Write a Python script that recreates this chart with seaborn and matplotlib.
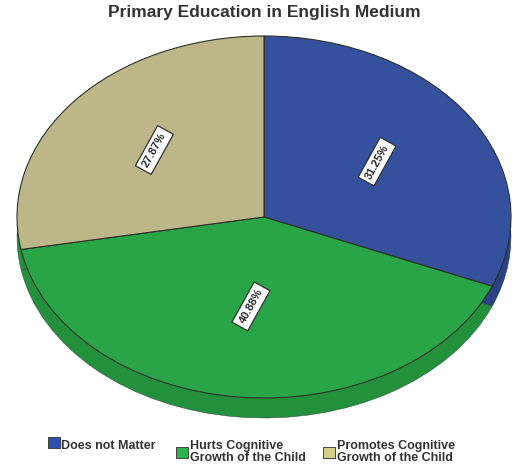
import matplotlib
matplotlib.use("Agg")
import matplotlib.pyplot as plt
from matplotlib.patches import Patch
import seaborn as sns

title = "Primary Education in English Medium"
categories = ["Does not Matter", "Hurts Cognitive\nGrowth of the Child", "Promotes Cognitive\nGrowth of the Child"]
percent = [31.25, 40.88, 27.87]
top_colors = ["#35509C", "#29A446", "#BDB688"]
side_colors = ["#2A4285", "#23903C", "#23903C"]
legend_colors = ["#2F50B0", "#2DB34B", "#D6CF86"]
label_shift = [1.02, 0.92, 1.07]

sns.set_theme(style="white")
plt.rcParams["font.family"] = ["Liberation Sans", "DejaVu Sans"]
sns.set_palette(top_colors)

W, H = 531, 469
fig = plt.figure(figsize=(W / 100, H / 100), dpi=100, facecolor="white")

left, right, top, bottom, depth = 17, 511, 36, 398, 20
ry = (bottom - top) / 2
d = depth / ry
ax = fig.add_axes([left / W, 1 - (bottom + depth) / H, (right - left) / W, (bottom + depth - top) / H])

ax.pie(percent, startangle=90, counterclock=False, colors=side_colors, center=(0, -d), radius=1,
       wedgeprops=dict(edgecolor="#2a3a40", linewidth=0.3))
wedges, _, autotexts = ax.pie(percent, startangle=90, counterclock=False, colors=sns.color_palette(),
                              center=(0, 0), radius=1, autopct="%.2f%%", pctdistance=0.54,
                              wedgeprops=dict(edgecolor="#2b3327", linewidth=0.8))
for t, k in zip(autotexts, label_shift):
    x, y = t.get_position()
    t.set_position((x * k, y * k))
    t.set(rotation=61, rotation_mode="anchor", ha="center", va="center", fontsize=8.0, fontweight="bold", color="#2a2a2a")
    t.set_bbox(dict(boxstyle="square,pad=0.36", facecolor="white", edgecolor="#333333", linewidth=0.9))

ax.set_aspect("auto")
ax.set_xlim(-1, 1)
ax.set_ylim(-1 - d, 1)
ax.axis("off")

fig.text(264 / W, 1 - 12 / H, title, ha="center", va="center", fontsize=12.5, color="#333333",
         fontweight="bold")

handles = [Patch(facecolor=c, edgecolor="#444444", linewidth=0.7) for c in legend_colors]
leg = fig.legend(handles, categories, loc="center", bbox_to_anchor=(253 / W, 1 - 452 / H), ncol=3, frameon=False,
                 prop=dict(size=9.0, weight="bold"), handlelength=0.95, handleheight=0.95, handletextpad=0.2,
                 columnspacing=1.3, labelspacing=0, borderpad=0, borderaxespad=0)
for t in leg.get_texts():
    t.set_linespacing(0.95)
    t.set_color("#333333")

# the single-line entry sits higher and further left than the two-line ones
first_text, first_handle = leg.get_texts()[0], leg.legend_handles[0]
first_text.set_position((first_text.get_position()[0] - 4, first_text.get_position()[1] + 8))
first_handle.set_x(first_handle.get_x() - 2)
first_handle.set_y(first_handle.get_y() + 7)

fig.savefig("out.png", dpi=100, facecolor="white")
